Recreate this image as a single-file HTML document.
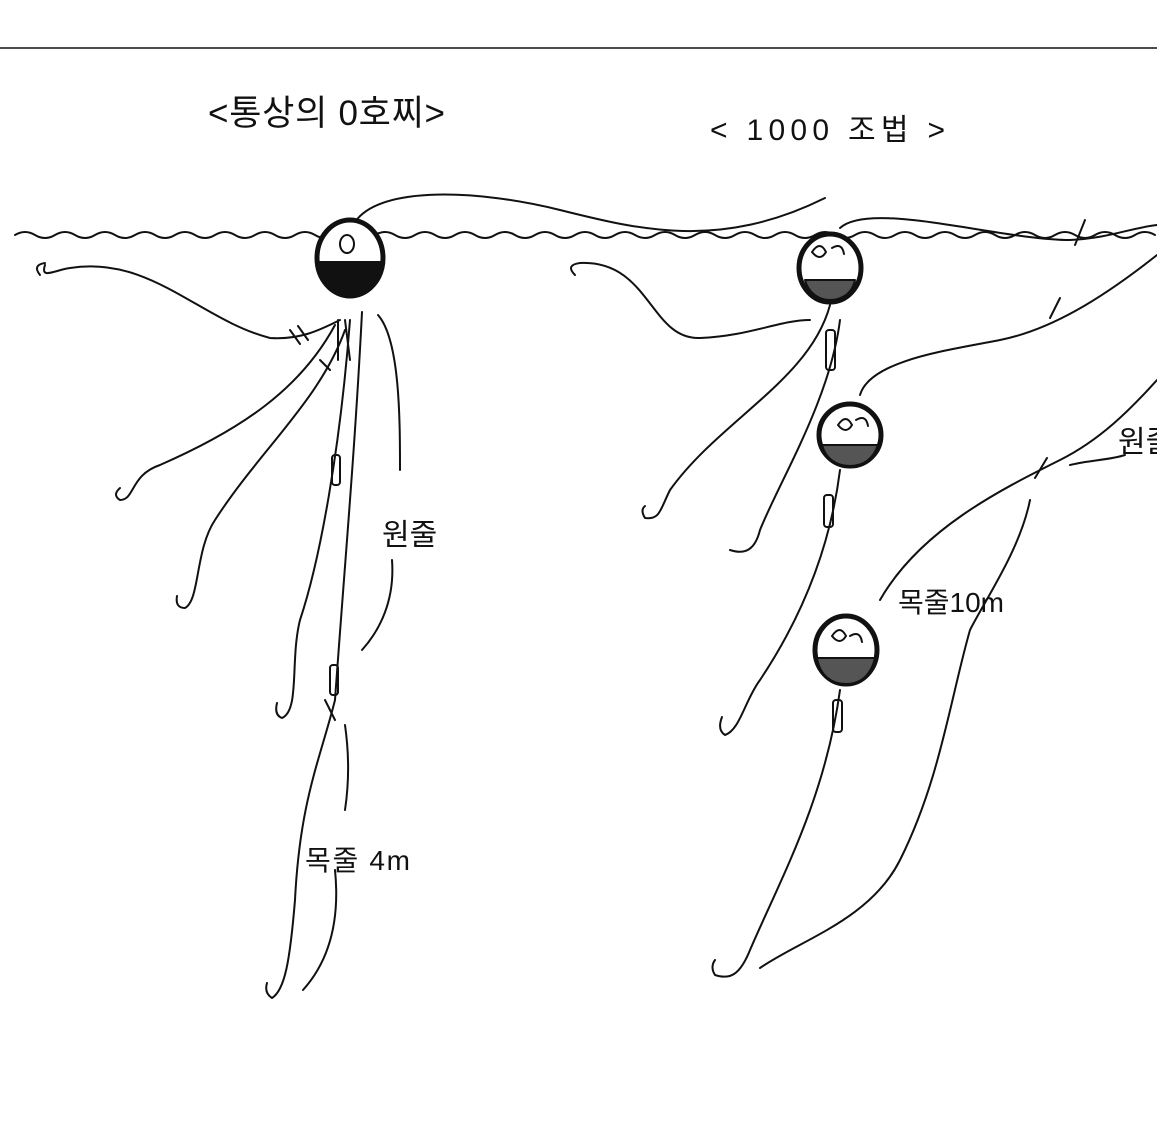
<!DOCTYPE html>
<html><head><meta charset="utf-8"><style>
html,body{margin:0;padding:0;background:#fff;}
svg{display:block}
text{font-family:"Liberation Sans","Noto Sans CJK KR","NanumGothic",sans-serif;fill:#111}
</style></head><body>
<svg width="1157" height="1135" viewBox="0 0 1157 1135" xmlns="http://www.w3.org/2000/svg">
<g fill="none" stroke="#111" stroke-width="2" stroke-linecap="round" stroke-linejoin="round">
<path d="M0 48 L1157 48" stroke-width="1.5"/>
<path d="M15 235 q10 -6 20 0 t20 0 t20 0 t20 0 t20 0 t20 0 t20 0 t20 0 t20 0 t20 0 t20 0 t20 0 t20 0 t20 0 t20 0 t20 0 t20 0 t20 0 t20 0 t20 0 t20 0 t20 0 t20 0 t20 0 t20 0 t20 0 t20 0 t20 0 t20 0 t20 0 t20 0 t20 0 t20 0 t20 0 t20 0 t20 0 t20 0 t20 0 t20 0 t20 0 t20 0 t20 0 t20 0 t20 0 t20 0 t20 0 t20 0 t20 0 t20 0 t20 0 t20 0 t20 0 t20 0 t20 0 t20 0 t20 0 t20 0"/>
<path d="M355 222 C380 185 480 190 560 210 C640 230 720 250 825 198"/>
<path d="M45 265 C 40 280 55 270 70 268 C150 255 200 320 270 338 C300 340 320 330 340 320"/>
<path d="M40 275 q-8 -10 5 -12"/>
<path d="M335 325 C300 390 240 430 160 465 C130 475 135 500 120 500 q-8 -5 0 -12"/>
<path d="M345 330 C320 400 260 450 215 520 C195 550 200 600 185 608 q-10 0 -8 -12"/>
<path d="M350 320 C340 450 320 560 300 620 C290 660 300 710 282 718 q-8 -3 -5 -15"/>
<path d="M362 312 C355 450 345 560 335 700 C320 760 300 800 295 900 C290 960 285 990 272 998 q-8 -5 -5 -15"/>
<path d="M378 315 C400 340 400 420 400 470"/>
<path d="M392 560 C395 600 380 630 362 650"/>
<path d="M345 725 C350 760 348 790 345 810"/>
<path d="M335 870 C340 920 330 960 303 990"/>
<rect x="332" y="455" width="8" height="30" rx="3"/>
<rect x="330" y="665" width="8" height="30" rx="3"/>
<path d="M345 320 l5 40 M338 320 l0 40" />
<path d="M290 330 l10 14 M298 326 l10 14 M320 360 l10 10 M325 700 l10 20"/>
<ellipse cx="350" cy="258" rx="33" ry="38" fill="#fff" stroke-width="5"/>
<path d="M318 262 L382 262 C380 285 365 296 350 296 C335 296 320 285 318 262Z" fill="#111"/>
<ellipse cx="347" cy="244" rx="7" ry="9"/>
<path d="M575 275 q-10 -10 5 -12 C650 260 650 340 700 338 C750 336 780 320 810 320"/>
<path d="M840 228 C870 200 1000 240 1070 240 C1110 238 1130 228 1157 225"/>
<path d="M830 305 C810 380 720 420 670 490 C660 510 660 520 645 518 q-5 -8 0 -12"/>
<path d="M840 320 C830 400 780 480 760 530 C755 550 745 555 730 550"/>
<path d="M860 395 C870 360 950 350 1000 340 C1050 330 1100 300 1157 255"/>
<path d="M1157 380 C1130 410 1100 440 1060 460 C1000 490 920 530 880 600"/>
<path d="M840 470 C830 550 800 620 760 680 C745 700 740 730 725 735 q-8 -5 -3 -18"/>
<path d="M840 690 C825 800 780 880 750 950 C740 975 730 980 715 975 q-5 -8 0 -15"/>
<path d="M1030 500 C1020 550 985 600 970 630 C950 700 940 780 900 860 C870 920 800 940 760 968"/>
<path d="M1070 465 C1090 460 1110 460 1125 455"/>
<rect x="824" y="495" width="9" height="32" rx="3"/>
<rect x="833" y="700" width="9" height="32" rx="3"/>
<rect x="826" y="330" width="9" height="40" rx="3"/>
<path d="M1050 318 l10 -20 M1035 478 l12 -20 M1075 245 l10 -25"/>
<ellipse cx="830" cy="268" rx="31" ry="34" fill="#fff" stroke-width="5"/>
<path d="M805 280 L855 280 C852 295 840 300 830 300 C818 300 808 292 805 280Z" fill="#555"/>
<path d="M812 252 q8 -12 14 0 q-6 10 -14 0 M832 248 q10 -6 12 6"/>
<ellipse cx="850" cy="435" rx="31" ry="31" fill="#fff" stroke-width="5"/>
<path d="M822 445 L878 445 C872 462 860 466 850 466 C838 466 826 460 822 445Z" fill="#555"/>
<path d="M838 425 q8 -12 14 0 q-6 10 -14 0 M856 420 q10 -6 12 6"/>
<ellipse cx="846" cy="650" rx="31" ry="34" fill="#fff" stroke-width="5"/>
<path d="M817 658 L875 658 C870 678 858 684 846 684 C832 684 820 676 817 658Z" fill="#555"/>
<path d="M832 636 q8 -12 14 0 q-6 10 -14 0"/>
<path d="M850 636 q10 -6 12 6"/>
</g>
<text x="208" y="125" font-size="35" textLength="237" lengthAdjust="spacing">&lt;통상의 0호찌&gt;</text>
<text x="710" y="140" font-size="30" textLength="235" lengthAdjust="spacing">&lt; 1000 조법 &gt;</text>
<text x="382" y="545" font-size="30">원줄</text>
<text x="305" y="870" font-size="28" textLength="105" lengthAdjust="spacing">목줄 4m</text>
<text x="898" y="612" font-size="28">목줄10m</text>
<text x="1118" y="452" font-size="30">원줄</text>
</svg>
</body></html>
